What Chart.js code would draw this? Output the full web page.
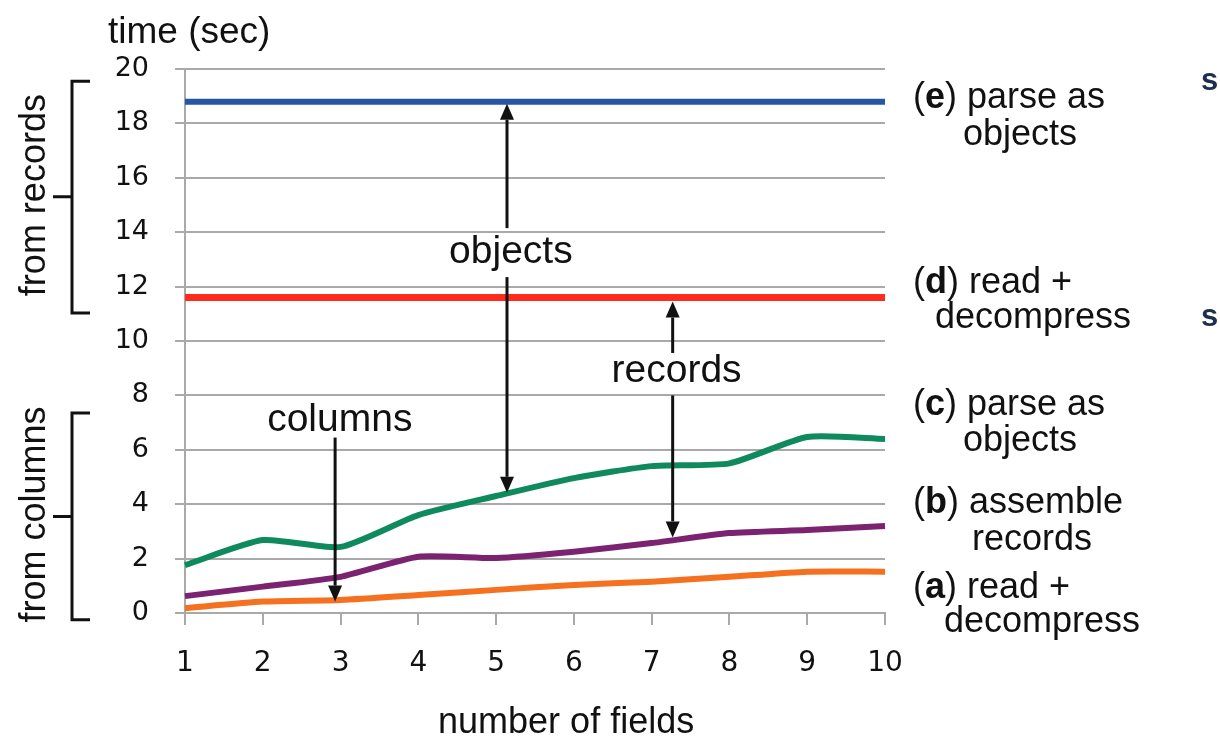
<!DOCTYPE html>
<html><head><meta charset="utf-8">
<script src="https://cdn.jsdelivr.net/npm/chart.js@4"></script>
<style>html,body{margin:0;padding:0;background:#fff;overflow:hidden}</style>
</head><body>
<canvas id="c" width="1220" height="739"></canvas>
<script>
// ---- data ----
const categories = ['1','2','3','4','5','6','7','8','9','10'];
const yTickValues = [0,2,4,6,8,10,12,14,16,18,20];
const colReadDecompress = [0.18,0.42,0.48,0.66,0.85,1.03,1.15,1.33,1.52,1.52];     // (a)
const colAssembleRecords = [0.62,0.97,1.33,2.07,2.02,2.25,2.57,2.94,3.05,3.20];    // (b)
const colParseObjects   = [1.76,2.68,2.43,3.60,4.30,4.96,5.40,5.50,6.47,6.40];     // (c)
const recReadDecompress = [11.6,11.6,11.6,11.6,11.6,11.6,11.6,11.6,11.6,11.6];     // (d)
const recParseObjects   = [18.8,18.8,18.8,18.8,18.8,18.8,18.8,18.8,18.8,18.8];     // (e)

const SANS = '"Liberation Sans", Arial, sans-serif';
const TICKF = '"DejaVu Sans", Verdana, sans-serif';

// annotation placement (data coordinates, x = number of fields)
const arrows = [
  {x:2.93, from:6.45, to:0.42},
  {x:5.14, from:14.15, to:18.72},
  {x:5.14, from:12.35, to:4.42},
  {x:7.27, from:9.56, to:11.45},
  {x:7.27, from:8.0, to:2.78}
];
const inPlotLabels = [
  {text:'columns', x:2.99, y:6.7},
  {text:'objects', x:5.19, y:12.85},
  {text:'records', x:7.32, y:8.5}
];

const annot = {
  id:'annot',
  afterDatasetsDraw(chart){
    const ctx = chart.ctx, xs = chart.scales.x, ys = chart.scales.y;
    const px = v => xs.getPixelForValue(v-1);
    const py = v => ys.getPixelForValue(v);
    ctx.save();
    ctx.strokeStyle = '#111'; ctx.fillStyle = '#111';
    ctx.lineWidth = 3; ctx.lineCap = 'butt';
    arrows.forEach(a => {
      const x = px(a.x), y1 = py(a.from), y2 = py(a.to);
      const dir = y2 > y1 ? 1 : -1;
      const hl = 16, hw = 7;
      ctx.beginPath(); ctx.moveTo(x, y1); ctx.lineTo(x, y2 - dir*hl); ctx.stroke();
      ctx.beginPath(); ctx.moveTo(x, y2); ctx.lineTo(x-hw, y2 - dir*hl); ctx.lineTo(x+hw, y2 - dir*hl); ctx.closePath(); ctx.fill();
    });
    ctx.font = '39px ' + SANS; ctx.textAlign = 'center'; ctx.textBaseline = 'alphabetic';
    inPlotLabels.forEach(l => ctx.fillText(l.text, px(l.x), py(l.y)));
    ctx.restore();
  },
  afterDraw(chart){
    const ctx = chart.ctx, ys = chart.scales.y, xs = chart.scales.x;
    const px = v => xs.getPixelForValue(v-1);
    const py = v => ys.getPixelForValue(v);
    ctx.save();
    ctx.fillStyle = '#111'; ctx.strokeStyle = '#111';
    // axis captions
    ctx.font = '37px ' + SANS; ctx.textAlign = 'left'; ctx.textBaseline = 'alphabetic';
    ctx.fillText('time (sec)', 108, 43);
    ctx.font = '36px ' + SANS; ctx.textAlign = 'center';
    ctx.fillText('number of fields', px(5.9), 733);
    ctx.textAlign = 'left';
    // right-hand series labels
    const rightLabels = [
      {k:'e', l1:' parse as', l2:'objects', y1:108, x2:963, y2:145},
      {k:'d', l1:' read +', l2:'decompress', y1:293, x2:935, y2:328},
      {k:'c', l1:' parse as', l2:'objects', y1:415, x2:963, y2:451},
      {k:'b', l1:' assemble', l2:'records', y1:513, x2:972, y2:550},
      {k:'a', l1:' read +', l2:'decompress', y1:598, x2:944, y2:632}
    ];
    rightLabels.forEach(r => {
      let x = 913;
      ctx.font = '36px ' + SANS; ctx.fillText('(', x, r.y1); x += ctx.measureText('(').width;
      ctx.font = 'bold 36px ' + SANS; ctx.fillText(r.k, x, r.y1); x += ctx.measureText(r.k).width;
      ctx.font = '36px ' + SANS; ctx.fillText(')', x, r.y1); x += ctx.measureText(')').width;
      ctx.fillText(r.l1, x, r.y1);
      ctx.fillText(r.l2, r.x2, r.y2);
    });
    // brackets on the left
    ctx.lineWidth = 3;
    const brackets = [
      {top:19.55, bot:11.03, mid:15.3, text:'from records'},
      {top:7.35, bot:-0.25, mid:3.55, text:'from columns'}
    ];
    brackets.forEach(b => {
      const t = py(b.top), bo = py(b.bot), m = py(b.mid);
      ctx.beginPath();
      ctx.moveTo(90, t); ctx.lineTo(72, t); ctx.lineTo(72, bo); ctx.lineTo(90, bo);
      ctx.moveTo(72, m); ctx.lineTo(53, m);
      ctx.stroke();
      ctx.save();
      ctx.translate(45, (t+bo)/2 - 2);
      ctx.rotate(-Math.PI/2);
      ctx.font = '36px ' + SANS; ctx.textAlign = 'center'; ctx.textBaseline = 'alphabetic';
      ctx.fillText(b.text, 0, 0);
      ctx.restore();
    });
    // cropped fragments at the right edge
    ctx.fillStyle = '#1d2f4f'; ctx.font = 'bold 31px ' + SANS; ctx.textAlign = 'left';
    ctx.fillText('s', 1201, 90);
    ctx.fillText('s', 1201, 326);
    ctx.restore();
  }
};

const GRID = '#a9a9a9';
new Chart(document.getElementById('c'), {
  type:'line',
  data:{
    labels: categories,
    datasets:[
      {label:'(e) parse as objects', data:recParseObjects, borderColor:'#2457a4', borderWidth:6, tension:0},
      {label:'(d) read + decompress', data:recReadDecompress, borderColor:'#ff2b1c', borderWidth:7, tension:0},
      {label:'(c) parse as objects', data:colParseObjects, borderColor:'#0f8a5c', borderWidth:6, tension:0.2},
      {label:'(b) assemble records', data:colAssembleRecords, borderColor:'#7b2270', borderWidth:6, tension:0.2},
      {label:'(a) read + decompress', data:colReadDecompress, borderColor:'#f5701f', borderWidth:6, tension:0.2}
    ]
  },
  options:{
    responsive:false, animation:false,
    layout:{padding:{left:0, right:335, top:69, bottom:0}},
    elements:{point:{radius:0}, line:{borderCapStyle:'butt', borderJoinStyle:'round'}},
    plugins:{legend:{display:false}, tooltip:{enabled:false}},
    scales:{
      x:{
        type:'category', offset:false,
        afterFit: s => { s.height = 126; },
        grid:{drawOnChartArea:false, drawTicks:true, tickLength:12, color:GRID, lineWidth:2},
        border:{color:GRID, width:2},
        ticks:{font:{family:TICKF, size:28}, color:'#111', padding:22, maxRotation:0, autoSkip:false},
        title:{display:false, text:'number of fields'}
      },
      y:{
        min:0, max:20,
        afterFit: s => { s.width = 185; },
        afterBuildTicks: s => { s.ticks = yTickValues.map(v => ({value:v})); },
        grid:{color:GRID, lineWidth:2, tickLength:10},
        border:{color:GRID, width:2},
        ticks:{font:{family:TICKF, size:27}, color:'#111', padding:26}
      }
    }
  },
  plugins:[annot]
});
</script>
</body></html>
